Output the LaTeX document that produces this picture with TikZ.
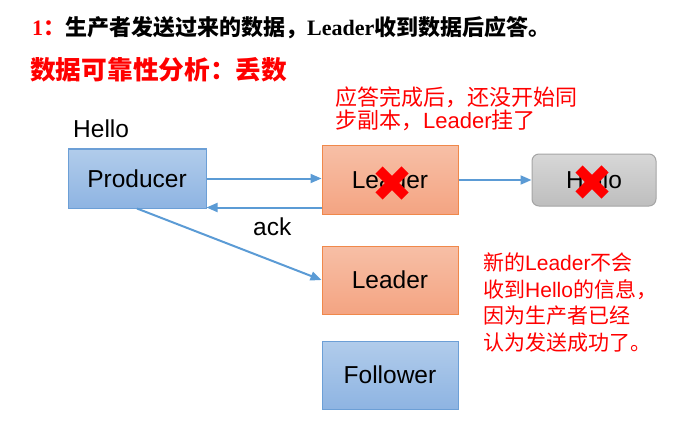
\documentclass[tikz,border=0pt]{standalone}
\usepackage{fontspec}
\setmainfont{Liberation Sans}
\newfontfamily\cjk{Noto Sans CJK SC}
\newfontfamily\titleserif{Liberation Serif}
\usepackage{tikz}
\usetikzlibrary{ positioning, arrows.meta, calc }
\usepackage{xcolor}
\definecolor{linkblue}{HTML}{5B9BD5}
\definecolor{bluetop}{HTML}{B1CCEB}
\definecolor{bluebot}{HTML}{8EB4E2}
\definecolor{blueline}{HTML}{6C9FD6}
\definecolor{orangetop}{HTML}{F7BFA6}
\definecolor{orangebot}{HTML}{F4A482}
\definecolor{orangeline}{HTML}{F0884A}
\definecolor{greytop}{HTML}{D7D7D7}
\definecolor{greybot}{HTML}{BEBEBE}
\definecolor{greyline}{HTML}{A5A5A5}
\definecolor{alarm}{HTML}{FF0000}

\begin{document}
\begin{tikzpicture}[
  x=1pt, y=-1pt,
  box/.style={draw, line width=1pt, inner sep=0pt,
              minimum width=136pt, minimum height=68pt,
              font=\fontsize{24.5}{28}\selectfont},
  bluebox/.style={box, draw=blueline, top color=bluetop, bottom color=bluebot},
  orangebox/.style={box, draw=orangeline, top color=orangetop, bottom color=orangebot},
  greybox/.style={box, draw=greyline, top color=greytop, bottom color=greybot,
                  rounded corners=7pt, minimum width=124pt, minimum height=52pt},
  label/.style={inner sep=0pt, anchor=base west, font=\fontsize{24.5}{28}\selectfont},
  note/.style={inner sep=0pt, anchor=base west, align=left, text=alarm},
  ar/.style={-{Triangle[length=11pt, width=9pt]}, line width=2pt, linkblue},
  xmark/.style={alarm, line width=10pt},
]
  \useasboundingbox (0,0) rectangle (681,444);

  % heading
  \node[inner sep=0pt, anchor=base west, font=\fontsize{22}{24}\selectfont]
    (title) at (32,36)
    {{\color{alarm}\titleserif\bfseries 1\cjk\bfseries ：}\cjk\bfseries
     生产者发送过来的数据，{\titleserif\bfseries Leader}收到数据后应答。};
  \node[inner sep=0pt, anchor=base west, text=alarm,
        font=\fontsize{25.7}{28}\selectfont\cjk\bfseries]
    (topic) at (30,80) {数据可靠性分析：丢数};

  % brokers
  \node[bluebox, minimum width=138pt, minimum height=59pt] (producer) at (137,178.5) {Producer};
  \node[orangebox] (leader) at (390,180) {Leader};
  \node[greybox] (hello) at (594,180) {Hello};
  \node[orangebox] (newleader) at (390,280) {Leader};
  \node[bluebox] (follower) at (390,375) {Follower};

  \node[label] (msg) at (73,138) {Hello};
  \node[label] (ack) at (253,235) {ack};

  % links
  \coordinate (ackstart) at ($(leader.south west)+(0,-7)$);
  \draw[ar] (producer.east) -- (producer.east -| leader.west);
  \draw[ar] (ackstart) -- (ackstart -| producer.east);
  \draw[ar] (leader.east) -- (hello.west);
  \draw[ar] (producer.south) -- (newleader.west);

  % lost
  \coordinate (x1) at ($(leader)+(2,3)$);
  \coordinate (x2) at ($(hello)+(-2,2)$);
  \foreach \c in {x1, x2}
    \draw[xmark] ($(\c)+(-13,-13)$) -- ($(\c)+(13,13)$)
                 ($(\c)+(-13,13)$) -- ($(\c)+(13,-13)$);

  % remarks (base = last line)
  \node[note, font=\fontsize{22}{23}\selectfont\cjk] (note1) at (335,128.5)
    {应答完成后，还没开始同\\步副本，{\rmfamily Leader}挂了};
  \node[note, font=\fontsize{21}{26.5}\selectfont\cjk] (note2) at (483,350)
    {新的{\rmfamily Leader}不会\\收到{\rmfamily Hello}的信息，\\因为生产者已经\\认为发送成功了。};
\end{tikzpicture}
\end{document}
